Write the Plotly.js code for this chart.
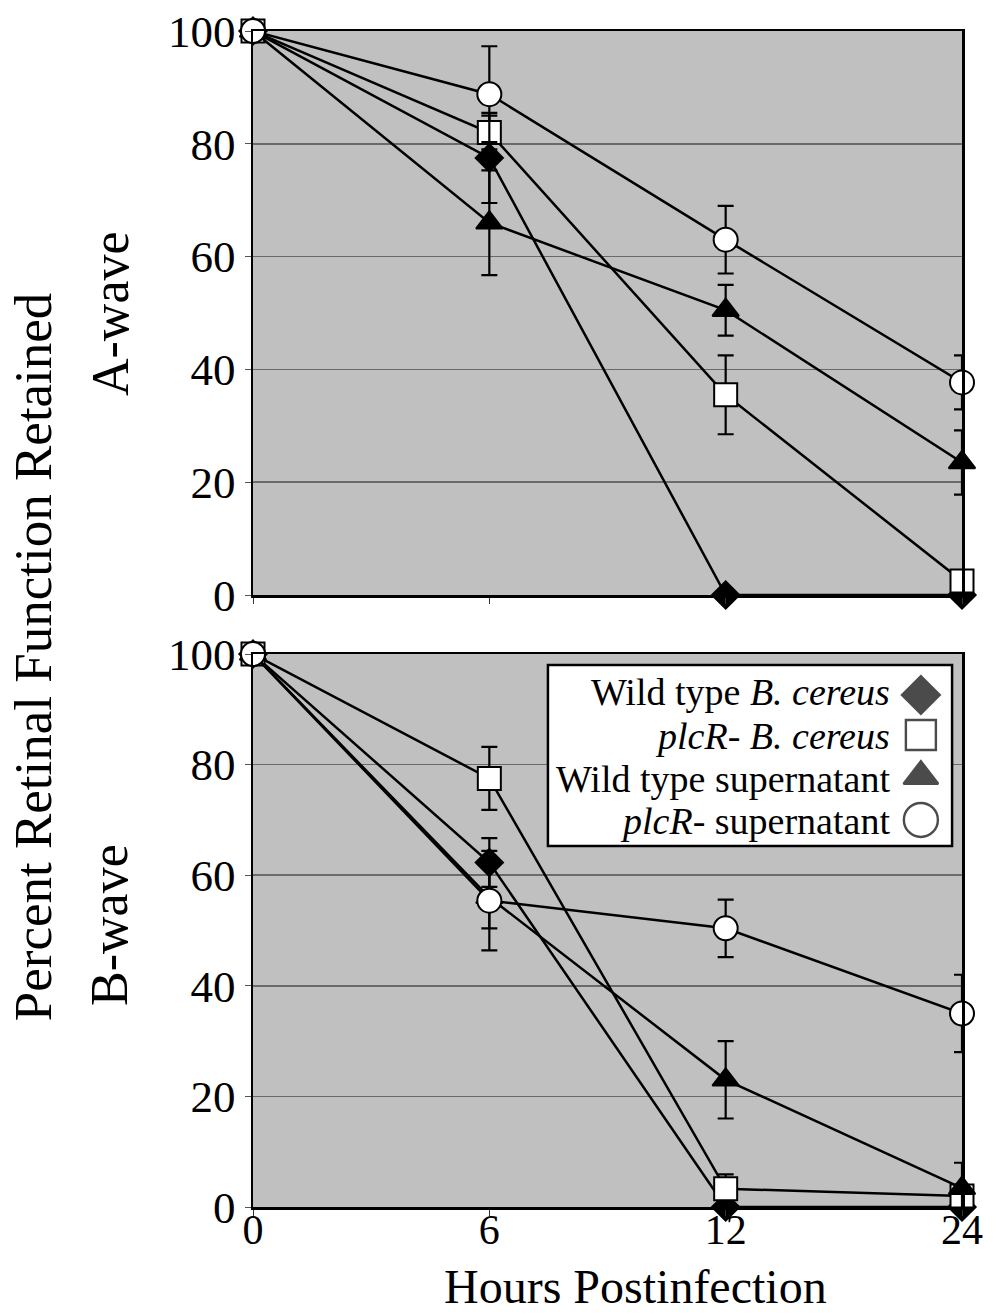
<!DOCTYPE html>
<html><head><meta charset="utf-8">
<script src="https://cdn.plot.ly/plotly-3.0.1.min.js"></script>
<style>html,body{margin:0;padding:0;background:#fff}</style>
</head><body><div id="chart" style="width:995px;height:1314px"></div>
<script>
// Categories (hours postinfection), equally spaced
const hours = ['0', '6', '12', '24'];
const xIndex = [0, 1, 2, 3];

// Series names (legend)
const seriesNames = ['Wild type <i>B. cereus</i>', '<i>plcR</i>- <i>B. cereus</i>', 'Wild type supernatant', '<i>plcR</i>- supernatant'];

// A-wave values and errors
const wtBc_A = [100, 77.5, 0, 0];
const wtBc_A_err = [0, 8, 0, 0];
const plcBc_A = [100, 82, 35.5, 2.5];
const plcBc_A_err = [0, 3, 7, 0];
const wtSup_A = [100, 66, 50.5, 23.5];
const wtSup_A_err = [0, 9.3, 4.5, 5.7];
const plcSup_A = [100, 88.8, 63, 37.7];
const plcSup_A_err = [0, 8.5, 6, 4.8];

// B-wave values and errors
const wtBc_B = [100, 62.3, 0, 0];
const wtBc_B_err = [0, 4.4, 0, 0];
const plcBc_B = [100, 77.5, 3.3, 2];
const plcBc_B_err = [0, 5.7, 2.6, 0];
const wtSup_B = [100, 56, 23, 3.4];
const wtSup_B_err = [0, 5.6, 7, 4.6];
const plcSup_B = [100, 55.4, 50.4, 35];
const plcSup_B_err = [0, 9, 5.2, 7];

const FONT = 'Liberation Serif, Times New Roman, serif';
const X_RANGE = [0, 3];
const Y_RANGE = [0, 100];

const styles = [
  {symbol: 'diamond', size: 21, fill: 'black', legSize: 29},
  {symbol: 'square', size: 23, fill: 'white', legSize: 30},
  {symbol: 'triangle-up', size: 23, fill: 'black', legSize: 30},
  {symbol: 'circle', size: 24, fill: 'white', legSize: 34}
];

function mk(y, err, st, xa, ya) {
  return {
    type: 'scatter', mode: 'lines+markers', x: xIndex, y: y,
    xaxis: xa, yaxis: ya, cliponaxis: false, showlegend: false,
    line: {color: 'black', width: 2.5},
    marker: {symbol: st.symbol, size: st.size, color: st.fill, line: {color: 'black', width: 2}},
    error_y: {type: 'data', array: err, visible: true, color: 'black', thickness: 2.2, width: 8}
  };
}

const dataA = [[wtBc_A, wtBc_A_err], [plcBc_A, plcBc_A_err], [wtSup_A, wtSup_A_err], [plcSup_A, plcSup_A_err]];
const dataB = [[wtBc_B, wtBc_B_err], [plcBc_B, plcBc_B_err], [wtSup_B, wtSup_B_err], [plcSup_B, plcSup_B_err]];

const traces = [];
dataA.forEach((d, i) => traces.push(mk(d[0], d[1], styles[i], 'x', 'y')));
dataB.forEach((d, i) => traces.push(mk(d[0], d[1], styles[i], 'x2', 'y2')));

// custom legend layout (fractions of the lower panel), symbols on the right of the text
const legSymXFrac = 0.942;
const legSymYFrac = [0.926, 0.8535, 0.779, 0.700];
const legTxtYFrac = [0.9313, 0.8517, 0.774, 0.698];
const fx = f => X_RANGE[0] + f * (X_RANGE[1] - X_RANGE[0]);
const fy = f => Y_RANGE[0] + f * (Y_RANGE[1] - Y_RANGE[0]);
traces.push({
  type: 'scatter', mode: 'markers', xaxis: 'x2', yaxis: 'y2', showlegend: false, cliponaxis: false,
  x: legSymYFrac.map(() => fx(legSymXFrac)), y: legSymYFrac.map(fy), hoverinfo: 'skip',
  marker: {
    symbol: styles.map(s => s.symbol), size: styles.map(s => s.legSize),
    color: styles.map(s => s.fill), line: {color: 'black', width: 2.4}
  }
});

const yax = {
  range: Y_RANGE, tickvals: [0, 20, 40, 60, 80, 100], ticks: 'outside', ticklen: 6, tickcolor: '#555',
  showgrid: true, gridcolor: '#6a6a6a', gridwidth: 1.5, zeroline: false,
  showline: true, linecolor: 'black', linewidth: 2.5, mirror: true,
  tickfont: {family: FONT, size: 45, color: 'black'}
};
const xax = {
  range: X_RANGE, tickvals: xIndex, ticktext: hours, ticks: 'outside', ticklen: 6, tickcolor: '#333',
  showgrid: false, zeroline: false, showline: true, linecolor: 'black', linewidth: 2.5, mirror: true,
  tickfont: {family: FONT, size: 42, color: 'black'}, ticklabelstandoff: -22
};

const annotations = [
  {text: 'A-wave', textangle: -90, xref: 'paper', yref: 'y domain', x: -0.2017, y: 0.5,
   showarrow: false, font: {family: FONT, size: 52, color: 'black'}, xanchor: 'center', yanchor: 'middle'},
  {text: 'B-wave', textangle: -90, xref: 'paper', yref: 'y2 domain', x: -0.2017, y: 0.51,
   showarrow: false, font: {family: FONT, size: 52, color: 'black'}, xanchor: 'center', yanchor: 'middle'},
  {text: 'Percent Retinal Function Retained', textangle: -90, xref: 'paper', yref: 'paper', x: -0.31, y: 0.4677,
   showarrow: false, font: {family: FONT, size: 53, color: 'black'}, xanchor: 'center', yanchor: 'middle'},
  {text: 'Hours Postinfection', xref: 'paper', yref: 'paper', x: 0.539, y: -0.0672,
   showarrow: false, font: {family: FONT, size: 48, color: 'black'}, xanchor: 'center', yanchor: 'middle'}
];
seriesNames.forEach((n, i) => annotations.push({
  text: n, xref: 'x2 domain', yref: 'y2 domain', x: 0.901, y: legTxtYFrac[i], xanchor: 'right', yanchor: 'middle',
  showarrow: false, font: {family: FONT, size: 38, color: 'black'}
}));

const layout = {
  width: 995, height: 1314,
  margin: {l: 253, r: 33, t: 31, b: 107},
  paper_bgcolor: 'white', plot_bgcolor: '#c0c0c0',
  showlegend: false,
  xaxis: Object.assign({}, xax, {anchor: 'y', showticklabels: false}),
  yaxis: Object.assign({}, yax, {domain: [0.5204, 1], anchor: 'x'}),
  xaxis2: Object.assign({}, xax, {anchor: 'y2'}),
  yaxis2: Object.assign({}, yax, {domain: [0, 0.4702], anchor: 'x2'}),
  shapes: [{
    type: 'rect', xref: 'x2', yref: 'y2', x0: fx(0.416), x1: fx(0.986), y0: fy(0.653), y1: fy(0.980),
    fillcolor: 'white', line: {color: 'black', width: 2.5}, layer: 'between'
  }],
  annotations: annotations
};

Plotly.newPlot('chart', traces, layout, {staticPlot: true, displayModeBar: false});
</script>
</body></html>
